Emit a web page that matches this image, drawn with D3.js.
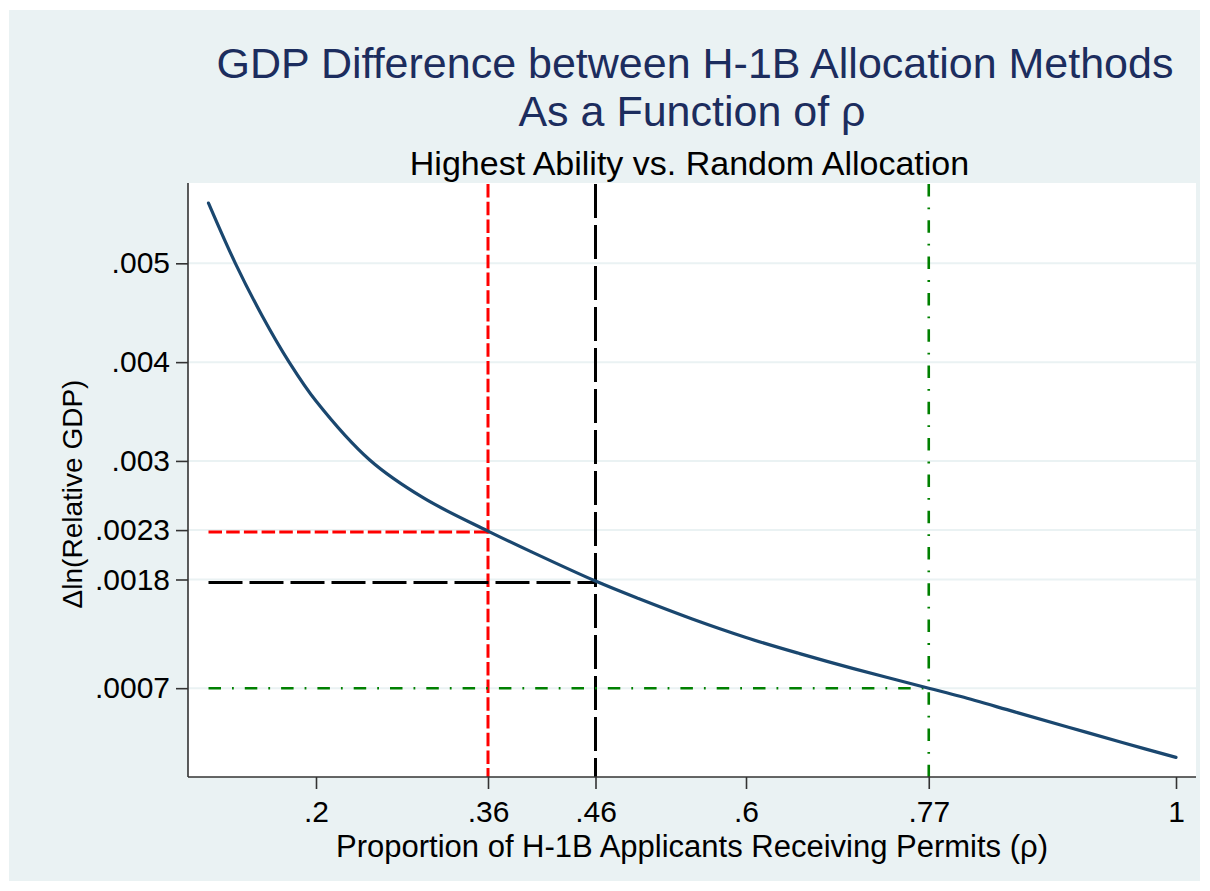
<!DOCTYPE html>
<html>
<head>
<meta charset="utf-8">
<script src="https://cdn.jsdelivr.net/npm/d3@7"></script>
<style>
  body { margin: 0; background: #ffffff; }
  svg { display: block; }
  text { font-family: "Liberation Sans", Arial, Helvetica, sans-serif; }
</style>
</head>
<body>
<svg id="chart" width="1210" height="891"></svg>
<script>
// ---- Data ----
const rho = [0.1, 0.125, 0.15, 0.175, 0.2, 0.25, 0.3, 0.36, 0.4, 0.46, 0.5, 0.55, 0.6, 0.65, 0.7, 0.77, 0.8, 0.85, 0.9, 0.95, 1.0];
const gdpDiff = [0.00561, 0.00500, 0.004467, 0.00400, 0.003606, 0.003009, 0.002625, 0.00229, 0.002082, 0.001784, 0.001607, 0.00140, 0.001213, 0.00105, 0.000898, 0.000700, 0.000615, 0.000460, 0.000305, 0.000150, 0.0];

const refRho = [0.36, 0.46, 0.77];
const refGdp = [0.00228, 0.00177, 0.0007];
const refColors = ["#ff0000", "#000000", "#008000"];

const xTickVals = [0.2, 0.36, 0.46, 0.6, 0.77, 1];
const xTickLabels = [".2", ".36", ".46", ".6", ".77", "1"];
const yTickVals = [0.005, 0.004, 0.003, 0.0023, 0.0018, 0.0007];
const yTickLabels = [".005", ".004", ".003", ".0023", ".0018", ".0007"];

const titleLines = ["GDP Difference between H-1B Allocation Methods", "As a Function of \u03C1"];
const subtitle = "Highest Ability vs. Random Allocation";
const xTitle = "Proportion of H-1B Applicants Receiving Permits (\u03C1)";
const yTitle = "\u0394ln(Relative GDP)";

// ---- Layout ----
const svg = d3.select("#chart");
const plot = { left: 188, top: 183, right: 1196, bottom: 777 };

svg.append("rect").attr("x", 9).attr("y", 10).attr("width", 1191).attr("height", 871).attr("fill", "#eaf2f3");
svg.append("rect").attr("x", plot.left).attr("y", plot.top)
  .attr("width", plot.right - plot.left).attr("height", plot.bottom - plot.top).attr("fill", "#ffffff");

const x = d3.scaleLinear().domain([0.08093, 1.0186]).range([plot.left, plot.right]);
const y = d3.scaleLinear().domain([-0.000199, 0.005813]).range([plot.bottom, plot.top]);

// gridlines
svg.append("g").selectAll("line").data(yTickVals).join("line")
  .attr("x1", plot.left).attr("x2", plot.right)
  .attr("y1", d => y(d)).attr("y2", d => y(d))
  .attr("stroke", "#eaf2f3").attr("stroke-width", 2);

// reference lines
const dashes = ["13.5,4.2", "34,7", "12.5,11,1.8,11"];
const widths = [3, 3, 2.6];
refRho.forEach((r, i) => {
  svg.append("line")
    .attr("x1", x(rho[0])).attr("x2", x(r))
    .attr("y1", y(refGdp[i])).attr("y2", y(refGdp[i]))
    .attr("stroke", refColors[i]).attr("stroke-width", widths[i])
    .attr("stroke-dasharray", dashes[i]);
  svg.append("line")
    .attr("x1", x(r)).attr("x2", x(r))
    .attr("y1", plot.top + 1).attr("y2", plot.bottom)
    .attr("stroke", refColors[i]).attr("stroke-width", widths[i])
    .attr("stroke-dasharray", dashes[i]);
});

// curve
const line = d3.line().x((d, i) => x(rho[i])).y(d => y(d)).curve(d3.curveCatmullRom.alpha(0.5));
svg.append("path").datum(gdpDiff)
  .attr("d", line).attr("fill", "none")
  .attr("stroke", "#1a476f").attr("stroke-width", 3.2).attr("stroke-linecap", "round");

// axes
const yAxis = d3.axisLeft(y).tickValues(yTickVals)
  .tickFormat((d, i) => yTickLabels[i]).tickSize(12).tickPadding(6).tickSizeOuter(0);
const gy = svg.append("g").attr("transform", `translate(${plot.left},0)`).call(yAxis);
gy.select(".domain").attr("d", `M0,${plot.top}V${plot.bottom}`);

const xAxis = d3.axisBottom(x).tickValues(xTickVals)
  .tickFormat((d, i) => xTickLabels[i]).tickSize(12).tickPadding(12).tickSizeOuter(0);
const gx = svg.append("g").attr("transform", `translate(0,${plot.bottom})`).call(xAxis);
gx.select(".domain").attr("d", `M${plot.left},0H${plot.right}`);

[gx, gy].forEach(g => {
  g.select(".domain").attr("stroke", "#333333").attr("stroke-width", 1.6);
  g.selectAll(".tick line").attr("stroke", "#333333").attr("stroke-width", 1.6);
  g.selectAll(".tick text").attr("fill", "#000000").style("font-size", "30px")
    .style("font-family", '"Liberation Sans", Arial, Helvetica, sans-serif');
});

// titles
const cx = (plot.left + plot.right) / 2;
svg.append("text").attr("x", cx + 3).attr("y", 77.5).attr("text-anchor", "middle")
  .attr("fill", "#1c2d5e").style("font-size", "43px").text(titleLines[0]);
svg.append("text").attr("x", cx).attr("y", 126).attr("text-anchor", "middle")
  .attr("fill", "#1c2d5e").style("font-size", "43px").text(titleLines[1]);
svg.append("text").attr("x", cx - 2.5).attr("y", 175).attr("text-anchor", "middle")
  .attr("fill", "#000000").style("font-size", "34px").text(subtitle);
svg.append("text").attr("x", cx).attr("y", 857).attr("text-anchor", "middle")
  .attr("fill", "#000000").style("font-size", "31px").text(xTitle);
svg.append("text").attr("transform", `translate(82,494) rotate(-90)`).attr("text-anchor", "middle")
  .attr("fill", "#000000").style("font-size", "28px").text(yTitle);
</script>
</body>
</html>
